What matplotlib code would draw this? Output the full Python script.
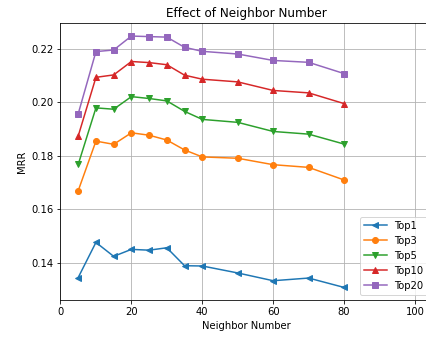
import numpy as np
from matplotlib import pyplot as plt

# neighbor numbers used in the experiment
neighbor_numbers = [5, 10, 15, 20, 25, 30, 35, 40, 50, 60, 70, 80]

# MRR values for each top-k setting
top1 = [0.1346, 0.1477, 0.1425, 0.1451, 0.1448, 0.1457, 0.1390, 0.1389, 0.1363, 0.1334, 0.1344, 0.1309]
top3 = [0.1670, 0.1855, 0.1843, 0.1886, 0.1877, 0.1859, 0.1822, 0.1796, 0.1791, 0.1767, 0.1757, 0.1710]
top5 = [0.1768, 0.1979, 0.1974, 0.2021, 0.2014, 0.2005, 0.1966, 0.1936, 0.1925, 0.1891, 0.1881, 0.1844]
top10 = [0.1874, 0.2093, 0.2102, 0.2152, 0.2148, 0.2140, 0.2101, 0.2086, 0.2076, 0.2044, 0.2035, 0.1995]
top20 = [0.1957, 0.2189, 0.2195, 0.2247, 0.2245, 0.2243, 0.2205, 0.2190, 0.2180, 0.2156, 0.2149, 0.2107]

series = [top1, top3, top5, top10, top20]
labels = ["Top1", "Top3", "Top5", "Top10", "Top20"]
markers = ["<", "o", "v", "^", "s"]

# figure at 72 dpi so the default font sizes match the reference
fig = plt.figure(figsize=(426 / 72, 337 / 72), dpi=72)
# the axes run slightly past the right edge of the picture, as in the original
ax = fig.add_axes([0.142, 0.1098, 0.8737, 0.8205])

# plot each series with its own marker
for values, label, marker in zip(series, labels, markers):
    ax.plot(neighbor_numbers, values, marker=marker, label=label)

# set the title, axis labels and limits
ax.set_title("Effect of Neighbor Number")
ax.set_xlabel("Neighbor Number")
ax.set_ylabel("MRR")
ax.set_xlim(0, 105)
ax.set_xticks(np.arange(0, 101, 20))
ax.set_yticks([0.14, 0.16, 0.18, 0.20, 0.22])
ax.grid(True)
ax.legend(loc="lower right", handlelength=2.3)

fig.savefig("out.png", dpi=72)
